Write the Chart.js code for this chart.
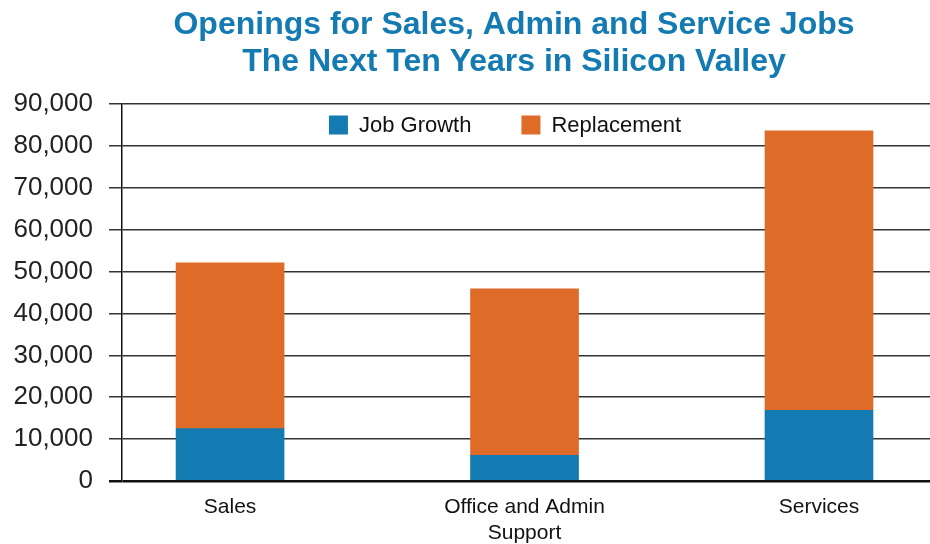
<!DOCTYPE html>
<html>
<head>
<meta charset="utf-8">
<title>Openings for Sales, Admin and Service Jobs</title>
<script src="https://cdn.jsdelivr.net/npm/chart.js@4"></script>
<style>
  body { margin: 0; background: #fff; }
</style>
</head>
<body>
<canvas id="myChart" width="930" height="544"></canvas>
<script>
const titleLines = ["Openings for Sales, Admin and Service Jobs", "The Next Ten Years in Silicon Valley"];
const categories = ["Sales", ["Office and Admin", "Support"], "Services"];
const seriesNames = ["Job Growth", "Replacement"];
const jobGrowth = [12500, 6100, 16900];
const replacement = [39600, 39800, 66700];
const yTicks = [0, 10000, 20000, 30000, 40000, 50000, 60000, 70000, 80000, 90000];

const blue = "#147bb2";
const orange = "#de6c28";
const font = "'Liberation Sans', Arial, Helvetica, sans-serif";

// bars sit on a numeric x axis so the side gaps can differ from the category spacing
function points(values) {
  return values.map((v, i) => ({ x: i, y: v }));
}

// title and legend are drawn by hand: both are offset from the canvas centre
const headerPlugin = {
  id: "header",
  afterDraw(chart) {
    const ctx = chart.ctx;
    ctx.save();
    ctx.fillStyle = blue;
    ctx.font = "bold 32px " + font;
    ctx.textAlign = "center";
    ctx.textBaseline = "alphabetic";
    ctx.fillText(titleLines[0], 514, 34);
    ctx.fillText(titleLines[1], 514, 71);

    ctx.font = "22px " + font;
    ctx.textAlign = "left";
    ctx.textBaseline = "middle";
    const box = 19, gap = 11, spacing = 50, y = 125;
    const widths = chart.data.datasets.map(ds => ctx.measureText(ds.label).width);
    let total = widths.reduce((a, w) => a + box + gap + w, 0) + spacing * (widths.length - 1);
    let x = 505 - total / 2;
    chart.data.datasets.forEach((ds, i) => {
      ctx.fillStyle = ds.backgroundColor;
      ctx.fillRect(x, y - box / 2, box, box);
      ctx.fillStyle = "#111";
      ctx.fillText(ds.label, x + box + gap, y + 1);
      x += box + gap + widths[i] + spacing;
    });
    ctx.restore();
  }
};

new Chart("myChart", {
  type: "bar",
  data: {
    datasets: [
      { label: seriesNames[0], data: points(jobGrowth), backgroundColor: blue, barThickness: 108 },
      { label: seriesNames[1], data: points(replacement), backgroundColor: orange, barThickness: 108 }
    ]
  },
  options: {
    responsive: false,
    animation: false,
    layout: { padding: { top: 104, left: 13, right: 0, bottom: 0 } },
    scales: {
      x: {
        type: "linear",
        stacked: true,
        offset: false,
        min: -0.367,
        max: 2.377,
        afterBuildTicks: scale => { scale.ticks = categories.map((c, i) => ({ value: i })); },
        afterFit: scale => { scale.height = 63; },
        grid: { display: false, drawTicks: false, offset: false },
        border: { display: false },
        ticks: {
          callback: v => categories[v],
          color: "#111",
          padding: 14,
          font: { family: font, size: 21 },
          maxRotation: 0,
          autoSkip: false
        }
      },
      y: {
        stacked: true,
        min: yTicks[0],
        max: yTicks[yTicks.length - 1],
        afterBuildTicks: scale => { scale.ticks = yTicks.map(v => ({ value: v })); },
        afterFit: scale => { scale.width = 109; },
        grid: {
          color: c => c.tick && c.tick.value === 0 ? "#111" : "#333",
          lineWidth: c => c.tick && c.tick.value === 0 ? 2.5 : 1.5,
          tickLength: 13
        },
        border: { display: true, color: "#111", width: 1.5 },
        ticks: {
          callback: v => v.toLocaleString("en-US"),
          color: "#222",
          padding: 16,
          font: { family: font, size: 26 }
        }
      }
    },
    plugins: {
      legend: { display: false },
      tooltip: { enabled: false }
    }
  },
  plugins: [headerPlugin]
});
</script>
</body>
</html>
